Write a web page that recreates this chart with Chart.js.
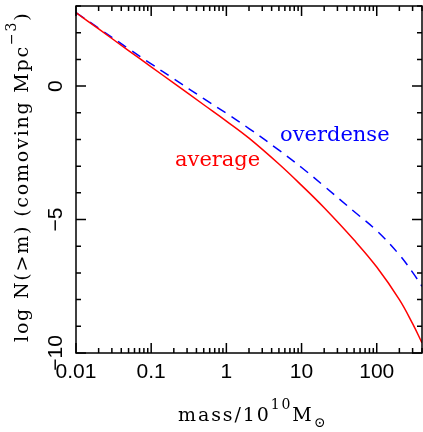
<!DOCTYPE html>
<html lang="en">
<head>
<meta charset="UTF-8">
<title>Cumulative mass function</title>
<style>
  body { margin: 0; background: #fff; }
  #wrap { width: 423px; height: 432px; }
</style>
</head>
<body>
<div id="wrap"><canvas id="chart"></canvas></div>
<script src="https://cdn.jsdelivr.net/npm/chart.js@4.4.1/dist/chart.umd.min.js"></script>
<script>
// mass in units of 10^10 Msun, values are log N(>m)
const masses = [0.01, 0.02, 0.05, 0.1, 0.2, 0.5, 1, 2, 5, 10, 20, 50, 100, 200, 300, 400];
const average = [2.75, 2.14, 1.33, 0.72, 0.11, -0.70, -1.31, -1.95, -2.92, -3.72, -4.56, -5.77, -6.78, -8.0, -8.9, -9.62];
const overdense = [2.75, 2.17, 1.40, 0.83, 0.27, -0.47, -1.02, -1.59, -2.40, -3.05, -3.75, -4.70, -5.42, -6.32, -6.98, -7.5];

const xTicks = [0.01, 0.1, 1, 10, 100];
const xTickLabels = ['0.01', '0.1', '1', '10', '100'];
const yTicks = [0, -5, -10];
const yTickLabels = ['0', '\u22125', '\u221210'];

const serif = '"DejaVu Serif", serif';
const sans = '"Liberation Sans", Arial, sans-serif';

function pts(ys) {
  return masses.map((m, i) => ({x: m, y: ys[i]}));
}

// draw a run of [text, size, dy] pieces starting at x,y
function drawPieces(ctx, pieces, x, y, spacing) {
  ctx.letterSpacing = spacing + 'px';
  pieces.forEach(p => {
    ctx.font = p[1] + 'px ' + serif;
    ctx.fillText(p[0], x, y + p[2]);
    x += ctx.measureText(p[0]).width;
  });
}

const frame = {
  id: 'frame',
  afterDraw(chart) {
    const {ctx, chartArea: a, scales: {x, y}} = chart;
    ctx.save();
    ctx.strokeStyle = '#000';
    ctx.lineWidth = 1.5;
    ctx.strokeRect(a.left, a.top, a.right - a.left, a.bottom - a.top);

    ctx.beginPath();
    // x ticks, top and bottom, pointing in
    xTicks.forEach(d => {
      for (let k = 1; k <= 9; k++) {
        const v = d * k;
        if (v > x.max) break;
        const px = x.getPixelForValue(v);
        const len = k == 1 ? 10 : 5;
        ctx.moveTo(px, a.bottom); ctx.lineTo(px, a.bottom - len);
        ctx.moveTo(px, a.top); ctx.lineTo(px, a.top + len);
      }
    });
    // y ticks, left and right
    for (let v = -10; v <= 3; v++) {
      const py = y.getPixelForValue(v);
      const len = v % 5 == 0 ? 10 : 5;
      ctx.moveTo(a.left, py); ctx.lineTo(a.left + len, py);
      ctx.moveTo(a.right, py); ctx.lineTo(a.right - len, py);
    }
    ctx.stroke();

    // y tick labels, rotated
    ctx.fillStyle = '#000';
    ctx.font = '21px ' + sans;
    ctx.textAlign = 'center';
    ctx.textBaseline = 'alphabetic';
    yTicks.forEach((v, i) => {
      ctx.save();
      ctx.translate(a.left - 14, y.getPixelForValue(v));
      ctx.rotate(-Math.PI / 2);
      ctx.fillText(yTickLabels[i], 0, 0);
      ctx.restore();
    });

    // curve labels
    ctx.textAlign = 'left';
    ctx.font = '21px ' + serif;
    ctx.fillStyle = '#ff0000';
    ctx.fillText('average', 175, 166);
    ctx.fillStyle = '#0000ff';
    ctx.fillText('overdense', 280, 141);

    // axis titles
    ctx.fillStyle = '#000';
    drawPieces(ctx, [['mass/10', 19, 0], ['10', 14, -12], ['M', 19, 0], ['\u2299', 14, 6]], 178, 421, 1.9);

    ctx.save();
    ctx.translate(28, 342);
    ctx.rotate(-Math.PI / 2);
    drawPieces(ctx, [['log N(>m) (comoving Mpc', 19, 0], ['\u22123', 14, -12], [')', 19, 0]], 0, 0, 1.8);
    ctx.restore();

    ctx.restore();
  }
};

new Chart(document.getElementById('chart'), {
  type: 'line',
  data: {
    datasets: [
      {
        label: 'average',
        data: pts(average),
        borderColor: '#ff0000',
        borderWidth: 1.5,
        tension: 0.4
      },
      {
        label: 'overdense',
        data: pts(overdense),
        borderColor: '#0000ff',
        borderWidth: 1.5,
        borderDash: [10, 7],
        tension: 0.4
      }
    ]
  },
  options: {
    responsive: true,
    maintainAspectRatio: false,
    animation: false,
    layout: {padding: {top: 6, right: 1}},
    elements: {point: {radius: 0}},
    plugins: {legend: {display: false}, tooltip: {enabled: false}},
    scales: {
      x: {
        type: 'logarithmic',
        min: 0.01,
        max: 400,
        grid: {display: false, drawTicks: false},
        border: {display: false},
        afterBuildTicks: s => { s.ticks = xTicks.map(v => ({value: v})); },
        afterFit: s => { s.height = 79; },
        ticks: {
          autoSkip: false,
          maxRotation: 0,
          padding: 7,
          color: '#000',
          font: {family: sans, size: 21},
          callback: (v, i) => xTickLabels[i]
        }
      },
      y: {
        type: 'linear',
        min: -10,
        max: 3,
        grid: {display: false, drawTicks: false},
        border: {display: false},
        ticks: {display: false},
        afterFit: s => { s.width = 76; }
      }
    }
  },
  plugins: [frame]
});
</script>
</body>
</html>
